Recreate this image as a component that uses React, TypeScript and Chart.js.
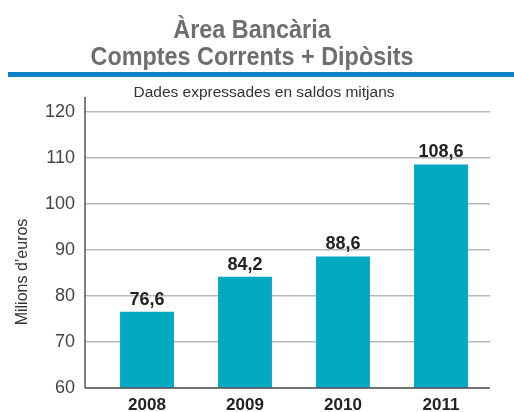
import React, { useEffect, useRef } from "react";
import { Chart, registerables } from "chart.js";

Chart.register(...registerables);

const categories = ["2008", "2009", "2010", "2011"];
const values = [76.6, 84.2, 88.6, 108.6];
const valueLabels = ["76,6", "84,2", "88,6", "108,6"];
const titleLines = ["Àrea Bancària", "Comptes Corrents + Dipòsits"];
const subtitleText = "Dades expressades en saldos mitjans";
const yAxisTitle = "Milions d’euros";
const yMin = 60;
const yMax = 120;
const yStep = 10;

const LABEL_FONT = "'Liberation Sans', Arial, sans-serif";

const decorPlugin = {
  id: "decor",
  afterDraw(chart: any) {
    const ctx = chart.ctx as CanvasRenderingContext2D;
    const area = chart.chartArea;
    const yScale = chart.scales.y;
    const axisX = area.left - 13;

    // title (condensed bold)
    ctx.save();
    ctx.fillStyle = "#6d6e70";
    ctx.font = `bold 25px ${LABEL_FONT}`;
    ctx.textAlign = "center";
    ctx.textBaseline = "alphabetic";
    const w2 = ctx.measureText(titleLines[1]).width;
    const sx = 323 / w2;
    ctx.translate(252, 0);
    ctx.scale(sx, 1);
    ctx.fillText(titleLines[0], 0, 38);
    ctx.fillText(titleLines[1], 0, 65);
    ctx.restore();

    // subtitle
    ctx.save();
    ctx.fillStyle = "#333333";
    ctx.font = `15.5px ${LABEL_FONT}`;
    ctx.textAlign = "center";
    ctx.textBaseline = "alphabetic";
    ctx.fillText(subtitleText, 264, 97);
    ctx.restore();

    ctx.save();
    // blue rule under title
    ctx.fillStyle = "#0a80c6";
    ctx.fillRect(8, 72, chart.width - 8, 5);
    // y axis line
    ctx.strokeStyle = "#555555";
    ctx.lineWidth = 1.5;
    ctx.beginPath();
    ctx.moveTo(axisX, yScale.getPixelForValue(yMax) - 15);
    ctx.lineTo(axisX, area.bottom);
    ctx.stroke();
    // x axis line
    ctx.beginPath();
    ctx.moveTo(axisX, area.bottom);
    ctx.lineTo(area.right, area.bottom);
    ctx.stroke();
    // y axis title
    ctx.translate(23, 272);
    ctx.rotate(-Math.PI / 2);
    ctx.fillStyle = "#333333";
    ctx.font = `16px ${LABEL_FONT}`;
    ctx.textAlign = "center";
    ctx.textBaseline = "middle";
    ctx.fillText(yAxisTitle, 0, 0);
    ctx.restore();

    // value labels
    const meta = chart.getDatasetMeta(0);
    ctx.save();
    ctx.fillStyle = "#222222";
    ctx.font = `bold 18px ${LABEL_FONT}`;
    ctx.textAlign = "center";
    ctx.textBaseline = "alphabetic";
    meta.data.forEach((bar: any, i: number) => {
      ctx.fillText(valueLabels[i], bar.x, bar.y - 7);
    });
    ctx.restore();
  },
};

export default function App() {
  const ref = useRef<HTMLCanvasElement | null>(null);
  useEffect(() => {
    if (!ref.current) return;
    const chart = new Chart(ref.current, {
      type: "bar",
      data: {
        labels: categories,
        datasets: [
          {
            data: values,
            backgroundColor: "#02a9c0",
            borderWidth: 0,
            categoryPercentage: 1,
            barPercentage: 0.55,
          },
        ],
      },
      options: {
        responsive: false,
        animation: false,
        layout: { padding: { left: 0, right: 24, top: 112, bottom: 0 } },
        plugins: {
          legend: { display: false },
          tooltip: { enabled: false },
          title: { display: false },
          subtitle: { display: false },
        },
        scales: {
          x: {
            grid: { display: false, drawTicks: false },
            border: { display: false },
            ticks: {
              color: "#222222",
              padding: 7,
              font: { family: LABEL_FONT, size: 17, weight: "bold" },
            },
            afterFit: (scale: any) => {
              scale.height = 24;
            },
          },
          y: {
            min: yMin,
            max: yMax,
            grid: {
              color: "#b8b8b8",
              lineWidth: 1.5,
              drawTicks: true,
              tickLength: 13,
              tickColor: "#b8b8b8",
            },
            border: { display: false },
            ticks: {
              stepSize: yStep,
              color: "#444444",
              padding: 10,
              font: { family: LABEL_FONT, size: 18 },
            },
            afterFit: (scale: any) => {
              scale.width = 98;
            },
          },
        },
      },
      plugins: [decorPlugin],
    });
    return () => chart.destroy();
  }, []);
  return (
    <div style={{ position: "fixed", left: 0, top: 0, width: 514, height: 412, background: "#ffffff" }}>
      <canvas ref={ref} width={514} height={412} />
    </div>
  );
}
